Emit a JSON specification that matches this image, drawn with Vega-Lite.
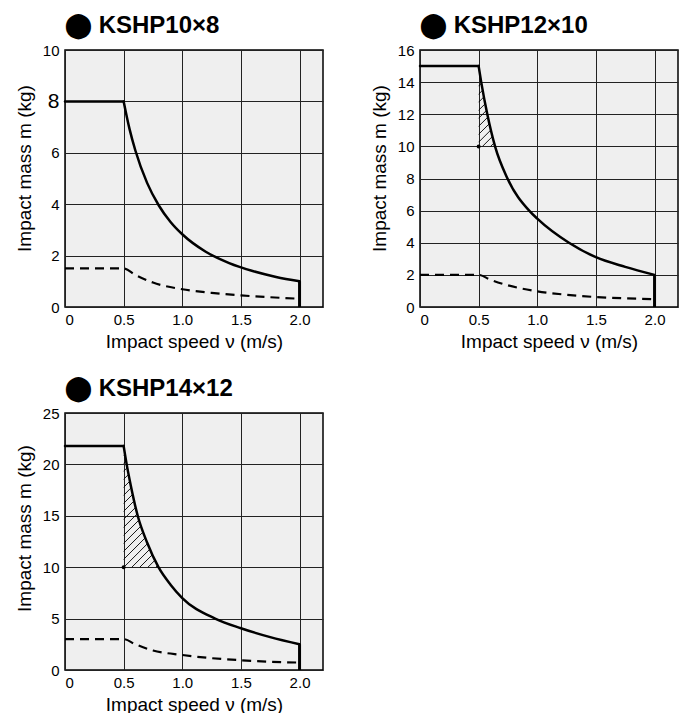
{
  "$schema": "https://vega.github.io/schema/vega-lite/v6.json",
  "background": "white",
  "padding": {"left": 14, "top": 13, "right": 5, "bottom": 0},
  "columns": 2,
  "spacing": {"row": 24, "column": 45},
  "config": {
    "view": {"stroke": "black", "strokeWidth": 1.5, "fill": "#efefef"},
    "axis": {
      "labelFont": "Liberation Sans", "labelFontSize": 15, "labelColor": "black", "labelOverlap": false, "labelSeparation": 0,
      "titleFont": "Liberation Sans", "titleFontSize": 19, "titleFontWeight": "normal", "titleColor": "black",
      "gridColor": "#222222", "gridOpacity": 1, "gridWidth": 1,
      "domain": false, "ticks": false, "labelPadding": 6, "titlePadding": 8
    },
    "axisX": {"labelPadding": 5, "titlePadding": 5},
    "title": {"font": "Liberation Sans", "fontSize": 24, "fontWeight": "bold", "anchor": "start", "frame": "group", "color": "black", "offset": 5}
  },
  "concat": [
    {
      "width": 258, "height": 257,
      "title": {"text": "⬤ KSHP10×8"},
      "layer": [
        {
          "data": {"values": [
            {"seg": "a", "v": 0, "m": 8}, {"seg": "a", "v": 0.5, "m": 8},
            {"seg": "b", "v": 0.5, "m": 8}, {"seg": "b", "v": 0.55, "m": 6.93}, {"seg": "b", "v": 0.6, "m": 6.09},
            {"seg": "b", "v": 0.7, "m": 4.83}, {"seg": "b", "v": 0.8, "m": 3.95}, {"seg": "b", "v": 0.9, "m": 3.31},
            {"seg": "b", "v": 1.0, "m": 2.83}, {"seg": "b", "v": 1.2, "m": 2.15}, {"seg": "b", "v": 1.4, "m": 1.71},
            {"seg": "b", "v": 1.6, "m": 1.4}, {"seg": "b", "v": 1.8, "m": 1.17}, {"seg": "b", "v": 2.0, "m": 1.0}
          ]},
          "mark": {"type": "line", "interpolate": "monotone", "color": "black", "strokeWidth": 2.5, "strokeCap": "round"},
          "encoding": {
            "x": {"field": "v", "type": "quantitative", "scale": {"domain": [0, 2.2], "nice": false},
              "axis": {"title": "Impact speed ν (m/s)", "values": [0, 0.5, 1, 1.5, 2], "labelOverlap": false, "labelExpr": "datum.value == 0 ? '0' : format(datum.value, '.1f')"}},
            "y": {"field": "m", "type": "quantitative", "scale": {"domain": [0, 10], "nice": false},
              "axis": {"title": "Impact mass m (kg)", "titleY": 118, "values": [0, 2, 4, 6, 8, 10], "labelOverlap": false, "labelFontSize": {"condition": {"test": "datum.value == 8", "value": 21}, "value": 15}}},
            "detail": {"field": "seg"}
          }
        },
        {
          "data": {"values": [
            {"v": 0, "m": 1.5}, {"v": 0.5, "m": 1.5}, {"v": 0.6, "m": 1.25}, {"v": 0.75, "m": 0.95},
            {"v": 1.0, "m": 0.69}, {"v": 1.25, "m": 0.55}, {"v": 1.5, "m": 0.45}, {"v": 1.75, "m": 0.38}, {"v": 2.0, "m": 0.32}
          ]},
          "mark": {"type": "line", "interpolate": "monotone", "color": "black", "strokeWidth": 2.2, "strokeDash": [9, 6]},
          "encoding": {"x": {"field": "v", "type": "quantitative"}, "y": {"field": "m", "type": "quantitative"}}
        },
        {
          "data": {"values": [{"v": 2.0, "m": 1.0, "m2": 0}]},
          "mark": {"type": "rule", "color": "black", "strokeWidth": 3},
          "encoding": {"x": {"field": "v", "type": "quantitative"}, "y": {"field": "m", "type": "quantitative"}, "y2": {"field": "m2"}}
        }
      ]
    },
    {
      "width": 258, "height": 257,
      "title": {"text": "⬤ KSHP12×10"},
      "layer": [
        {
          "data": {"values": [
            {"seg": "a", "v": 0, "m": 15}, {"seg": "a", "v": 0.5, "m": 15},
            {"seg": "b", "v": 0.5, "m": 15}, {"seg": "b", "v": 0.522, "m": 14}, {"seg": "b", "v": 0.574, "m": 12},
            {"seg": "b", "v": 0.64, "m": 10}, {"seg": "b", "v": 0.746, "m": 8}, {"seg": "b", "v": 0.931, "m": 6},
            {"seg": "b", "v": 1.0, "m": 5.5}, {"seg": "b", "v": 1.27, "m": 4}, {"seg": "b", "v": 1.5, "m": 3.1},
            {"seg": "b", "v": 1.75, "m": 2.5}, {"seg": "b", "v": 2.0, "m": 2.0}
          ]},
          "mark": {"type": "line", "interpolate": "monotone", "color": "black", "strokeWidth": 2.5, "strokeCap": "round"},
          "encoding": {
            "x": {"field": "v", "type": "quantitative", "scale": {"domain": [0, 2.2], "nice": false},
              "axis": {"title": "Impact speed ν (m/s)", "values": [0, 0.5, 1, 1.5, 2], "labelOverlap": false, "labelExpr": "datum.value == 0 ? '0' : format(datum.value, '.1f')"}},
            "y": {"field": "m", "type": "quantitative", "scale": {"domain": [0, 16], "nice": false},
              "axis": {"title": "Impact mass m (kg)", "titleY": 118, "tickCount": 8, "labelOverlap": false, "labelSeparation": 0, "labelExpr": "datum.label"}},
            "detail": {"field": "seg"}
          }
        },
        {
          "data": {"values": [
            {"v": 0, "m": 2}, {"v": 0.5, "m": 2}, {"v": 0.6, "m": 1.7}, {"v": 0.75, "m": 1.35},
            {"v": 1.0, "m": 0.98}, {"v": 1.25, "m": 0.76}, {"v": 1.5, "m": 0.62}, {"v": 1.75, "m": 0.54}, {"v": 2.0, "m": 0.48}
          ]},
          "mark": {"type": "line", "interpolate": "monotone", "color": "black", "strokeWidth": 2.2, "strokeDash": [9, 6]},
          "encoding": {"x": {"field": "v", "type": "quantitative"}, "y": {"field": "m", "type": "quantitative"}}
        },
        {
          "data": {"values": [{"v": 2.0, "m": 2.0, "m2": 0}]},
          "mark": {"type": "rule", "color": "black", "strokeWidth": 3},
          "encoding": {"x": {"field": "v", "type": "quantitative"}, "y": {"field": "m", "type": "quantitative"}, "y2": {"field": "m2"}}
        },
        {
          "data": {"values": [
            {"v": 0.602, "m": 10, "v2": 0.632, "m2": 10.22},
            {"v": 0.533, "m": 10, "v2": 0.618, "m2": 10.62},
            {"v": 0.5, "m": 10.26, "v2": 0.604, "m2": 11.02},
            {"v": 0.5, "m": 10.75, "v2": 0.591, "m2": 11.41},
            {"v": 0.5, "m": 11.25, "v2": 0.577, "m2": 11.81},
            {"v": 0.5, "m": 11.75, "v2": 0.564, "m2": 12.22},
            {"v": 0.5, "m": 12.25, "v2": 0.554, "m2": 12.64},
            {"v": 0.5, "m": 12.75, "v2": 0.543, "m2": 13.07},
            {"v": 0.5, "m": 13.25, "v2": 0.533, "m2": 13.49},
            {"v": 0.5, "m": 13.75, "v2": 0.522, "m2": 13.91}
          ]},
          "mark": {"type": "rule", "color": "black", "strokeWidth": 0.9},
          "encoding": {"x": {"field": "v", "type": "quantitative"}, "y": {"field": "m", "type": "quantitative"}, "x2": {"field": "v2"}, "y2": {"field": "m2"}}
        },
        {
          "data": {"values": [{"v": 0.5, "m": 10}]},
          "mark": {"type": "point", "filled": true, "color": "black", "size": 16, "opacity": 1},
          "encoding": {"x": {"field": "v", "type": "quantitative"}, "y": {"field": "m", "type": "quantitative"}}
        }
      ]
    },
    {
      "width": 258, "height": 257,
      "title": {"text": "⬤ KSHP14×12"},
      "layer": [
        {
          "data": {"values": [
            {"seg": "a", "v": 0, "m": 21.8}, {"seg": "a", "v": 0.5, "m": 21.8},
            {"seg": "b", "v": 0.5, "m": 21.8}, {"seg": "b", "v": 0.526, "m": 20}, {"seg": "b", "v": 0.56, "m": 18},
            {"seg": "b", "v": 0.62, "m": 15}, {"seg": "b", "v": 0.7, "m": 12.4}, {"seg": "b", "v": 0.797, "m": 10},
            {"seg": "b", "v": 0.9, "m": 8.3}, {"seg": "b", "v": 1.0, "m": 7.0}, {"seg": "b", "v": 1.28, "m": 5.0},
            {"seg": "b", "v": 1.5, "m": 4.06}, {"seg": "b", "v": 1.75, "m": 3.2}, {"seg": "b", "v": 2.0, "m": 2.5}
          ]},
          "mark": {"type": "line", "interpolate": "monotone", "color": "black", "strokeWidth": 2.5, "strokeCap": "round"},
          "encoding": {
            "x": {"field": "v", "type": "quantitative", "scale": {"domain": [0, 2.2], "nice": false},
              "axis": {"title": "Impact speed ν (m/s)", "values": [0, 0.5, 1, 1.5, 2], "labelOverlap": false, "labelExpr": "datum.value == 0 ? '0' : format(datum.value, '.1f')"}},
            "y": {"field": "m", "type": "quantitative", "scale": {"domain": [0, 25], "nice": false},
              "axis": {"title": "Impact mass m (kg)", "titleY": 115, "values": [0, 5, 10, 15, 20, 25], "labelOverlap": false}},
            "detail": {"field": "seg"}
          }
        },
        {
          "data": {"values": [
            {"v": 0, "m": 3}, {"v": 0.5, "m": 3}, {"v": 0.6, "m": 2.5}, {"v": 0.75, "m": 1.9},
            {"v": 1.0, "m": 1.46}, {"v": 1.25, "m": 1.15}, {"v": 1.5, "m": 0.95}, {"v": 1.75, "m": 0.8}, {"v": 2.0, "m": 0.72}
          ]},
          "mark": {"type": "line", "interpolate": "monotone", "color": "black", "strokeWidth": 2.2, "strokeDash": [9, 6]},
          "encoding": {"x": {"field": "v", "type": "quantitative"}, "y": {"field": "m", "type": "quantitative"}}
        },
        {
          "data": {"values": [{"v": 2.0, "m": 2.5, "m2": 0}]},
          "mark": {"type": "rule", "color": "black", "strokeWidth": 3},
          "encoding": {"x": {"field": "v", "type": "quantitative"}, "y": {"field": "m", "type": "quantitative"}, "y2": {"field": "m2"}}
        },
        {
          "data": {"values": [
            {"v": 0.775, "m": 10, "v2": 0.790, "m2": 10.17},
            {"v": 0.707, "m": 10, "v2": 0.769, "m2": 10.70},
            {"v": 0.638, "m": 10, "v2": 0.747, "m2": 11.24},
            {"v": 0.570, "m": 10, "v2": 0.725, "m2": 11.77},
            {"v": 0.502, "m": 10, "v2": 0.704, "m2": 12.30},
            {"v": 0.5, "m": 10.76, "v2": 0.685, "m2": 12.87},
            {"v": 0.5, "m": 11.54, "v2": 0.668, "m2": 13.45},
            {"v": 0.5, "m": 12.32, "v2": 0.650, "m2": 14.03},
            {"v": 0.5, "m": 13.10, "v2": 0.632, "m2": 14.60},
            {"v": 0.5, "m": 13.88, "v2": 0.616, "m2": 15.20},
            {"v": 0.5, "m": 14.66, "v2": 0.603, "m2": 15.83},
            {"v": 0.5, "m": 15.43, "v2": 0.591, "m2": 16.47},
            {"v": 0.5, "m": 16.21, "v2": 0.578, "m2": 17.10},
            {"v": 0.5, "m": 16.99, "v2": 0.565, "m2": 17.74},
            {"v": 0.5, "m": 17.77, "v2": 0.554, "m2": 18.38},
            {"v": 0.5, "m": 18.55, "v2": 0.543, "m2": 19.04},
            {"v": 0.5, "m": 19.33, "v2": 0.532, "m2": 19.70},
            {"v": 0.5, "m": 20.10, "v2": 0.522, "m2": 20.36},
            {"v": 0.5, "m": 20.88, "v2": 0.512, "m2": 21.02}
          ]},
          "mark": {"type": "rule", "color": "black", "strokeWidth": 0.9},
          "encoding": {"x": {"field": "v", "type": "quantitative"}, "y": {"field": "m", "type": "quantitative"}, "x2": {"field": "v2"}, "y2": {"field": "m2"}}
        },
        {
          "data": {"values": [{"v": 0.5, "m": 10}]},
          "mark": {"type": "point", "filled": true, "color": "black", "size": 16, "opacity": 1},
          "encoding": {"x": {"field": "v", "type": "quantitative"}, "y": {"field": "m", "type": "quantitative"}}
        }
      ]
    }
  ]
}
